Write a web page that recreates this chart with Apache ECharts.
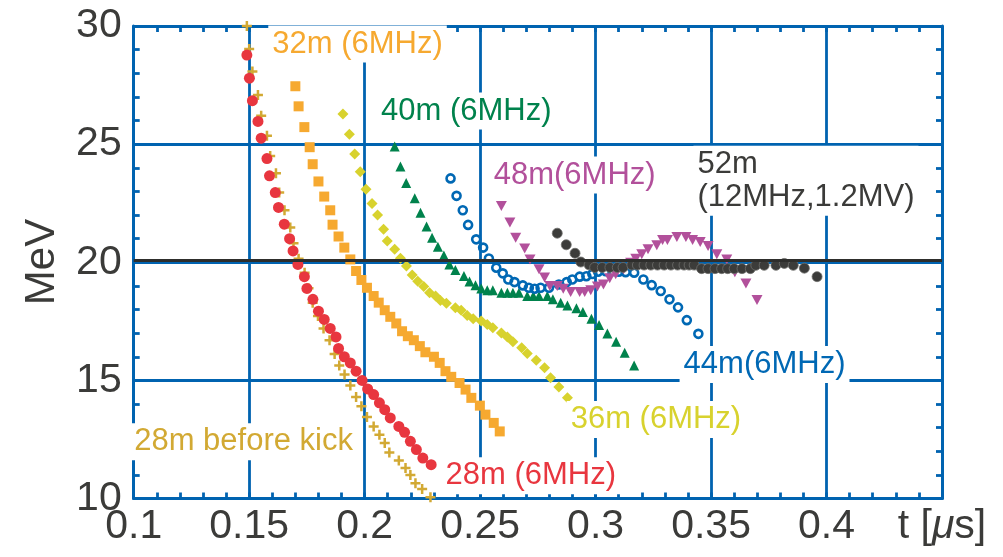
<!DOCTYPE html>
<html><head><meta charset="utf-8">
<script src="https://cdn.jsdelivr.net/npm/echarts/dist/echarts.min.js"></script>
<style>html,body{margin:0;padding:0;background:#fff}#c{width:1003px;height:557px}</style>
</head><body><div id="c"></div>
<script>
// ---- data (t in microseconds, energy in MeV) ----
const xMin = 0.1, xMax = 0.45, xStep = 0.05;
const yMin = 10, yMax = 30, yStep = 5;
const refLine = 20.07;

const beforeKick28 = [[0.149,30.0],[0.150,29.03],[0.1514,28.07],[0.1538,27.08],[0.1552,26.2],[0.1577,25.35],[0.1591,24.5],[0.1616,23.77],[0.163,22.95],[0.1653,22.2],[0.1678,21.47],[0.1692,20.8],[0.1714,20.15],[0.174,19.56],[0.1757,18.9],[0.1775,18.29],[0.1798,17.72],[0.1822,17.2],[0.1848,16.7],[0.187,16.12],[0.189,15.63],[0.1913,15.25],[0.1938,14.78],[0.1963,14.3],[0.1986,13.9],[0.201,13.45],[0.2039,13.05],[0.2064,12.7],[0.2087,12.35],[0.2107,11.95],[0.2148,11.61],[0.2177,11.29],[0.2198,11.0],[0.222,10.65],[0.2249,10.4],[0.2285,10.05]];
const m28 = [[0.149,28.77],[0.1501,27.79],[0.1514,26.84],[0.1538,25.96],[0.1552,25.25],[0.1577,24.39],[0.1588,23.66],[0.1613,22.95],[0.1627,22.32],[0.1652,21.61],[0.1675,21.0],[0.169,20.48],[0.1711,19.91],[0.1739,19.39],[0.175,18.89],[0.1776,18.43],[0.18,17.93],[0.1825,17.58],[0.1851,17.2],[0.1876,16.84],[0.1887,16.35],[0.1912,16.0],[0.1938,15.74],[0.1963,15.39],[0.1989,15.0],[0.2013,14.64],[0.2039,14.4],[0.2064,14.05],[0.2087,13.76],[0.2111,13.41],[0.2148,13.05],[0.2173,12.8],[0.2198,12.42],[0.2224,12.07],[0.2252,11.71],[0.2288,11.43]];
const m32 = [[0.17,27.45],[0.1714,26.6],[0.1739,25.72],[0.1762,24.87],[0.1775,24.15],[0.18,23.42],[0.1825,22.78],[0.1851,22.2],[0.1861,21.59],[0.1887,21.09],[0.1912,20.62],[0.1938,20.12],[0.1963,19.63],[0.1986,19.25],[0.201,18.92],[0.2039,18.57],[0.2061,18.29],[0.2087,17.97],[0.2111,17.69],[0.2137,17.41],[0.2162,17.08],[0.2187,16.87],[0.2213,16.7],[0.2239,16.45],[0.2263,16.19],[0.23,16.0],[0.2325,15.74],[0.235,15.39],[0.2375,15.15],[0.2411,14.89],[0.2437,14.61],[0.2462,14.26],[0.2499,13.93],[0.2523,13.55],[0.2559,13.2],[0.2585,12.84]];
const m36 = [[0.1906,26.27],[0.1934,25.42],[0.1957,24.58],[0.1981,23.83],[0.2006,23.09],[0.2032,22.49],[0.2056,22.0],[0.2082,21.4],[0.2098,20.9],[0.213,20.55],[0.2155,20.17],[0.2181,19.84],[0.2206,19.46],[0.223,19.2],[0.2256,18.97],[0.2281,18.71],[0.2307,18.57],[0.2328,18.38],[0.2354,18.26],[0.2393,18.07],[0.2418,17.97],[0.2444,17.75],[0.247,17.61],[0.2505,17.51],[0.2531,17.37],[0.2555,17.23],[0.2592,17.01],[0.2618,16.84],[0.2642,16.63],[0.268,16.38],[0.2704,16.14],[0.2743,15.85],[0.2779,15.53],[0.2805,15.11],[0.2841,14.72],[0.2878,14.26]];
const m40 = [[0.213,24.9],[0.2155,24.05],[0.218,23.35],[0.2217,22.71],[0.2242,22.1],[0.2268,21.51],[0.2292,21.04],[0.2317,20.66],[0.2343,20.29],[0.2367,19.91],[0.2393,19.67],[0.243,19.42],[0.2454,19.18],[0.248,19.03],[0.2505,18.89],[0.2531,18.82],[0.2555,18.82],[0.2592,18.71],[0.2618,18.71],[0.2642,18.71],[0.2668,18.71],[0.2704,18.57],[0.273,18.57],[0.2755,18.57],[0.2791,18.57],[0.2815,18.43],[0.2849,18.29],[0.2878,18.17],[0.2917,18.05],[0.2945,17.89],[0.2982,17.61],[0.3015,17.34],[0.3051,16.98],[0.3089,16.63],[0.3126,16.17],[0.3167,15.63]];
const m44 = [[0.2372,23.55],[0.2398,22.81],[0.2425,22.2],[0.2448,21.58],[0.2483,20.97],[0.2513,20.62],[0.2538,20.16],[0.257,19.77],[0.2598,19.53],[0.2622,19.27],[0.2649,19.16],[0.2685,19.02],[0.2711,18.92],[0.2736,18.88],[0.2762,18.92],[0.2798,18.92],[0.2841,19.06],[0.2875,19.16],[0.2899,19.27],[0.2931,19.39],[0.296,19.41],[0.2986,19.5],[0.3011,19.6],[0.3044,19.62],[0.3073,19.62],[0.3101,19.6],[0.313,19.58],[0.3167,19.56],[0.3207,19.27],[0.3243,19.03],[0.3282,18.78],[0.332,18.43],[0.3357,18.09],[0.3395,17.55],[0.3445,16.97]];
const m48 = [[0.2592,22.38],[0.2629,21.68],[0.2654,21.04],[0.2693,20.58],[0.2716,20.12],[0.2755,19.7],[0.2779,19.35],[0.2802,18.99],[0.2834,18.99],[0.286,18.88],[0.2892,18.74],[0.2931,18.74],[0.2953,18.74],[0.2979,18.82],[0.3008,18.97],[0.3034,19.06],[0.3061,19.32],[0.3087,19.49],[0.3121,19.7],[0.3152,19.98],[0.3174,20.15],[0.32,20.34],[0.3227,20.55],[0.3265,20.72],[0.3290,20.94],[0.3311,20.94],[0.3352,21.07],[0.3391,21.07],[0.342,20.94],[0.3453,20.86],[0.3487,20.69],[0.3525,20.34],[0.3568,20.12],[0.3603,19.58],[0.3651,19.1],[0.3699,18.4]];
const m52 = [[0.2834,21.23],[0.2873,20.74],[0.2911,20.38],[0.2936,20.01],[0.2972,19.89],[0.2996,19.78],[0.3029,19.78],[0.3062,19.78],[0.3094,19.78],[0.3119,19.78],[0.3157,19.88],[0.3181,19.88],[0.321,19.88],[0.3239,19.88],[0.3268,19.88],[0.3297,19.88],[0.3326,19.88],[0.3355,19.88],[0.3383,19.88],[0.3405,19.88],[0.3427,19.88],[0.3459,19.73],[0.3487,19.73],[0.3517,19.73],[0.3546,19.73],[0.3572,19.73],[0.36,19.73],[0.3634,19.73],[0.367,19.73],[0.3694,19.87],[0.373,19.87],[0.3781,19.87],[0.3817,19.95],[0.3856,19.87],[0.3904,19.75],[0.3959,19.39]];

// annotation texts: [text, t, E (left edge, vertical middle), colour]
const labelTexts = ['32m (6MHz)','40m (6MHz)','48m(6MHz)','52m\n(12MHz,1.2MV)','44m(6MHz)','36m (6MHz)','28m (6MHz)','28m before kick'];
const labelAnchors = [[0.160,29.24],[0.2071,26.4],[0.2559,23.69],[0.3441,23.45],[0.3381,15.67],[0.2892,13.34],[0.2350,10.96],[0.1002,12.4]];
const labelColors = ['#f6a930','#00824c','#b2509b','#3b3b39','#0068b4','#d8d22e','#e8363f','#d2a933'];

// ---- chart ----
const BLUE = '#0063b0', TXT = '#3b3b39';
const chart = echarts.init(document.getElementById('c'), null, {renderer:'canvas'});
const axisCommon = {
  type:'value', axisLine:{show:true, onZero:false, lineStyle:{color:BLUE, width:3}},
  axisTick:{show:true, inside:true, length:6, lineStyle:{color:BLUE, width:2.8}},
  minorTick:{show:true, splitNumber:5, length:6, lineStyle:{color:BLUE, width:2.8}},
};
function fmtX(v){
  if (Math.abs(v - xMax) < 1e-9) return '{n|t [}{i|\u03bc}{n|s]}';
  return String(+v.toFixed(2));
}
const xBase = {min:xMin, max:xMax, interval:xStep};
const yBase = {min:yMin, max:yMax, interval:yStep};
const font = 'Liberation Sans';
function sc(name, data, symbol, size, color, extra){
  const base = {name, type:'scatter', data, symbol, symbolSize:size,
    itemStyle:{color, opacity:1}, emphasis:{disabled:true}, silent:true, animation:false};
  return Object.assign(base, extra||{});
}
const option = {
  animation:false,
  grid:{left:133.7, right:61, top:26, bottom:58.5, containLabel:false},
  xAxis:[
    Object.assign({}, axisCommon, xBase, {position:'bottom',
      splitLine:{show:true, lineStyle:{color:BLUE, width:2.8}},
      axisLabel:{show:true, formatter:fmtX, color:TXT, fontFamily:font, fontSize:41, margin:8,
        rich:{n:{fontFamily:font, fontSize:41, color:TXT}, i:{fontFamily:font, fontSize:41, color:TXT, fontStyle:'italic'}}}}),
    Object.assign({}, axisCommon, xBase, {position:'top', splitLine:{show:false}, axisLabel:{show:false}})
  ],
  yAxis:[
    Object.assign({}, axisCommon, yBase, {position:'left',
      splitLine:{show:true, lineStyle:{color:BLUE, width:2.8}},
      axisLabel:{show:true, color:TXT, fontFamily:font, fontSize:41, margin:12}}),
    Object.assign({}, axisCommon, yBase, {position:'right', splitLine:{show:false}, axisLabel:{show:false}})
  ],
  series:[
    sc('28m before kick', beforeKick28, 'path://M3,0H5V3H8V5H5V8H3V5H0V3H3Z', 10, '#d2a933', {
      markLine:{silent:true, symbol:'none', label:{show:false}, animation:false,
        lineStyle:{color:'#2e2e2c', width:3, type:'solid', opacity:1}, data:[{yAxis:refLine}]}}),
    sc('28m (6MHz)', m28, 'circle', 11, '#e8363f'),
    sc('32m (6MHz)', m32, 'rect', 10, '#f6a930'),
    sc('36m (6MHz)', m36, 'diamond', 11, '#d8d22e'),
    sc('40m (6MHz)', m40, 'triangle', 10, '#00824c'),
    sc('44m (6MHz)', m44, 'circle', 8, 'rgba(255,255,255,0)', {itemStyle:{color:'rgba(255,255,255,0)', borderColor:'#0068b4', borderWidth:2.6, opacity:1}}),
    sc('48m (6MHz)', m48, 'path://M0,0L10,0L5,9Z', [11,10], '#b2509b'),
    sc('52m (12MHz,1.2MV)', m52, 'circle', 10, '#3c3c3a', {itemStyle:{color:'#3c3c3a', borderColor:'#6e6e6c', borderWidth:0.8, opacity:1}})
  ]
};
chart.setOption(option);

// annotations, positioned through the axes
const graphics = labelTexts.map((t, i) => {
  const p = chart.convertToPixel({gridIndex:0}, labelAnchors[i]);
  return {type:'text', x:p[0]-4, y:p[1], z:50, silent:true,
    style:{text:t, fill:labelColors[i], font:'31px "Liberation Sans"', lineHeight:33,
      align:'left', verticalAlign:'middle', backgroundColor:'#fff', padding:[2,4,2,4]}};
});
graphics.push({type:'text', x:42, y:262, rotation:Math.PI/2, z:50, silent:true,
  style:{text:'MeV', fill:TXT, font:'42px "Liberation Sans"', align:'center', verticalAlign:'middle'}});
chart.setOption({graphic:graphics});
</script></body></html>
